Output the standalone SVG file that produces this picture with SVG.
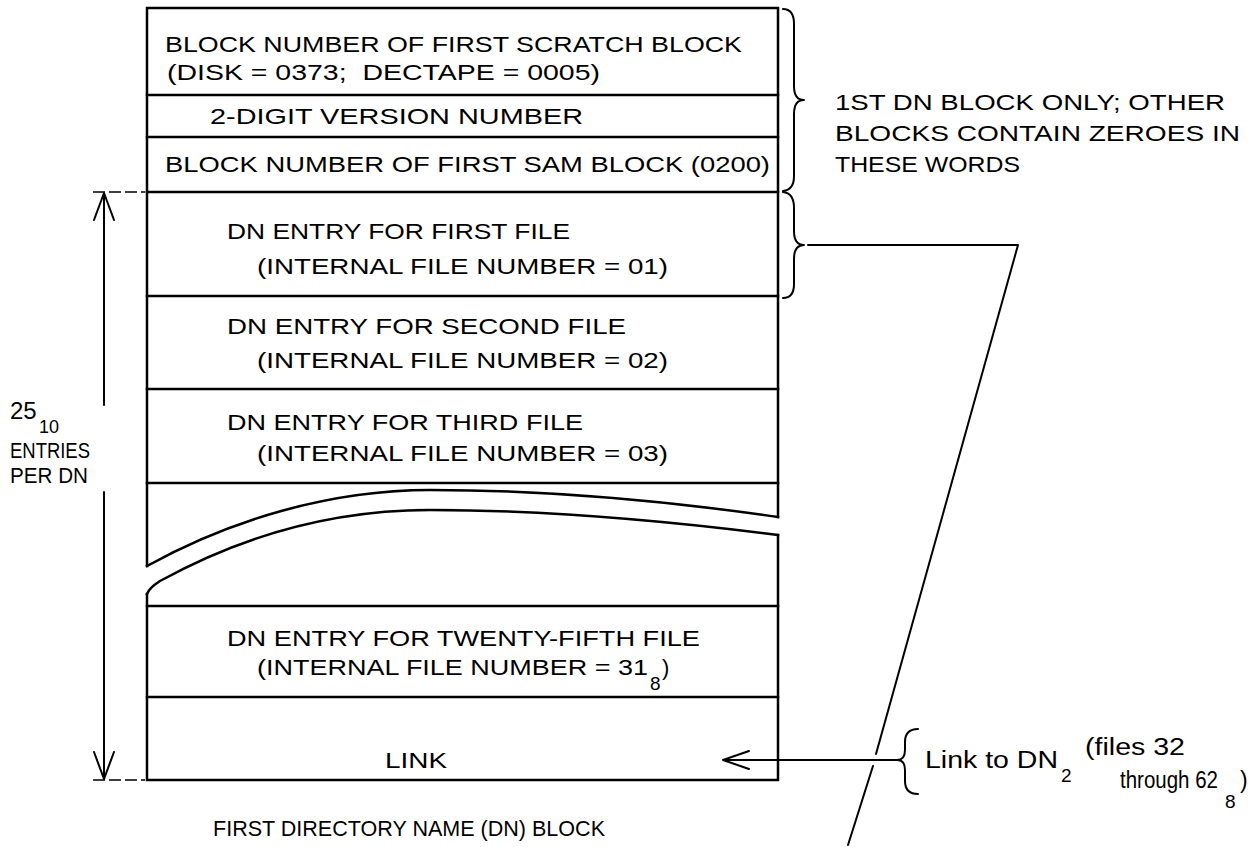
<svg xmlns="http://www.w3.org/2000/svg" width="1255" height="847" viewBox="0 0 1255 847">
<defs>
<style>
.ln{stroke:#000;stroke-width:2.5;fill:none;stroke-linecap:square}
.th{stroke:#000;stroke-width:2;fill:none;stroke-linecap:round;stroke-linejoin:round}
.dash{stroke:#000;stroke-width:1.6;fill:none;stroke-dasharray:12 4}
text{font-family:"Liberation Sans",Arial,sans-serif;fill:#000}
.bx{font-size:22px}
.an{font-size:22px}
.lk{font-size:23px}
.sb{font-size:19px}
</style>
</defs>
<rect width="1255" height="847" fill="#fff"/>

<g id="frame">
<path class="ln" d="M147,566 L147,8 L778,8 L778,517"/>
<path class="ln" d="M778,535 L778,780 L147,780 L147,594"/>
<path class="ln" d="M147,95 H778 M147,137 H778 M147,192 H778 M147,296 H778 M147,389 H778 M147,483 H778 M147,606 H778 M147,697 H778"/>
</g>

<g id="row-scratch">
<text class="bx" x="165" y="52" textLength="577" lengthAdjust="spacingAndGlyphs">BLOCK NUMBER OF FIRST SCRATCH BLOCK</text>
<text class="bx" x="167" y="80" textLength="433" lengthAdjust="spacingAndGlyphs">(DISK = 0373;&#160; DECTAPE = 0005)</text>
</g>
<g id="row-version">
<text class="bx" x="210" y="124" textLength="373" lengthAdjust="spacingAndGlyphs">2-DIGIT VERSION NUMBER</text>
</g>
<g id="row-sam">
<text class="bx" x="165" y="172" textLength="605" lengthAdjust="spacingAndGlyphs">BLOCK NUMBER OF FIRST SAM BLOCK (0200)</text>
</g>
<g id="row-file1">
<text class="bx" x="227" y="239" textLength="343" lengthAdjust="spacingAndGlyphs">DN ENTRY FOR FIRST FILE</text>
<text class="bx" x="257" y="274" textLength="411" lengthAdjust="spacingAndGlyphs">(INTERNAL FILE NUMBER = 01)</text>
</g>
<g id="row-file2">
<text class="bx" x="227" y="334" textLength="399" lengthAdjust="spacingAndGlyphs">DN ENTRY FOR SECOND FILE</text>
<text class="bx" x="257" y="368" textLength="411" lengthAdjust="spacingAndGlyphs">(INTERNAL FILE NUMBER = 02)</text>
</g>
<g id="row-file3">
<text class="bx" x="227" y="430" textLength="356" lengthAdjust="spacingAndGlyphs">DN ENTRY FOR THIRD FILE</text>
<text class="bx" x="257" y="461" textLength="411" lengthAdjust="spacingAndGlyphs">(INTERNAL FILE NUMBER = 03)</text>
</g>
<g id="row-break">
<path class="ln" d="M147,566 C230,520 330,490 430,490 C540,490 660,500 778,517"/>
<path class="ln" d="M147,594 Q149,588 160,581 C240,537 330,510 430,510 C540,510 660,520 778,535"/>
</g>
<g id="row-file25">
<text class="bx" x="227" y="646" textLength="473" lengthAdjust="spacingAndGlyphs">DN ENTRY FOR TWENTY-FIFTH FILE</text>
<text class="bx" x="257" y="675" textLength="391" lengthAdjust="spacingAndGlyphs">(INTERNAL FILE NUMBER = 31</text>
<text class="sb" x="650" y="690">8</text>
<text class="bx" x="662" y="675">)</text>
</g>
<g id="row-link">
<text class="bx" x="385" y="768" textLength="62" lengthAdjust="spacingAndGlyphs">LINK</text>
</g>

<g id="dimension">
<path class="dash" d="M93,192 H145 M93,780 H145"/>
<text x="10" y="419" style="font-size:24px">25</text>
<text class="sb" x="39" y="433" style="font-size:18px">10</text>
<text class="an" x="10" y="458" textLength="80" lengthAdjust="spacingAndGlyphs">ENTRIES</text>
<text class="an" x="10" y="483" textLength="78" lengthAdjust="spacingAndGlyphs">PER DN</text>
</g>

<g id="note-first-block">
<text class="an" x="835" y="110" textLength="390" lengthAdjust="spacingAndGlyphs">1ST DN BLOCK ONLY; OTHER</text>
<text class="an" x="835" y="141" textLength="405" lengthAdjust="spacingAndGlyphs">BLOCKS CONTAIN ZEROES IN</text>
<text class="an" x="835" y="172" textLength="185" lengthAdjust="spacingAndGlyphs">THESE WORDS</text>
</g>

<g id="note-link">
<text class="lk" x="925" y="768" textLength="133" lengthAdjust="spacingAndGlyphs">Link to DN</text>
<text class="sb" x="1061" y="782">2</text>
<text class="lk" x="1085" y="755" textLength="100" lengthAdjust="spacingAndGlyphs">(files 32</text>
<text class="lk" x="1120" y="788" textLength="98" lengthAdjust="spacingAndGlyphs">through 62</text>
<text class="sb" x="1225" y="808">8</text>
<text class="lk" x="1240" y="788">)</text>
</g>

<g id="caption">
<text class="bx" x="213" y="836" textLength="392" lengthAdjust="spacingAndGlyphs">FIRST DIRECTORY NAME (DN) BLOCK</text>
</g>

<g id="connectors">
<path class="th" d="M104,193 V405 M94,220 L104,193 L114,220"/>
<path class="th" d="M104,492 V779 M94,752 L104,779 L114,752"/>
<path class="th" d="M783,9 Q794,9 794,24 L794,86 Q794,100 804,100 Q794,100 794,114 L794,176 Q794,190 783,191"/>
<path class="th" d="M783,192 Q794,193 794,208 L794,231 Q794,245 804,245 Q794,245 794,259 L794,284 Q794,298 783,298"/>
<path class="th" d="M808,245 H1018 L876,754 M873,766 L848,845"/>
<path class="th" d="M900,760 H724 M749,751 L723,760 L749,769"/>
<path class="th" d="M918,729 Q905,729 905,742 L905,750 Q905,760 897,760 Q905,760 905,770 L905,781 Q905,794 918,794"/>
</g>
</svg>
